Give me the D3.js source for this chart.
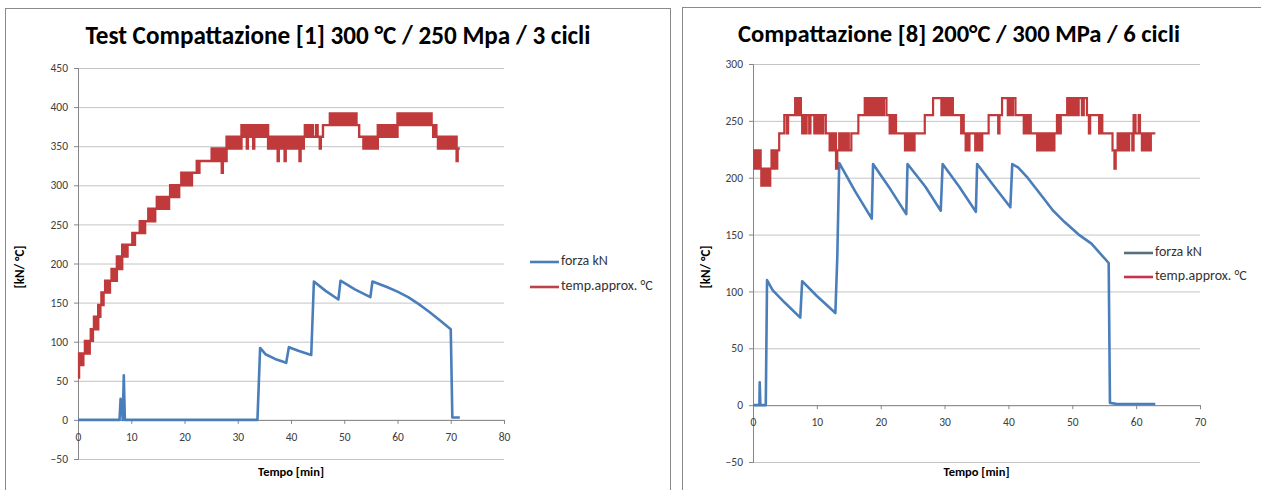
<!DOCTYPE html>
<html>
<head>
<meta charset="utf-8">
<script src="https://cdn.jsdelivr.net/npm/d3@7"></script>
<style>
  body { margin: 0; background: #fff; }
  svg { display: block; }
  text { font-family: Carlito, Calibri, Lato, "Open Sans", sans-serif; }
</style>
</head>
<body>
<svg id="chart" width="1261" height="490"></svg>
<script>
// ---- data ----
const seriesNames = ["forza kN", "temp.approx. °C"];

const leftTitle = "Test Compattazione [1] 300 °C / 250 Mpa / 3 cicli";
const leftXTicks = [0, 10, 20, 30, 40, 50, 60, 70, 80];
const leftYTicks = [-50, 0, 50, 100, 150, 200, 250, 300, 350, 400, 450];

// [minutes, kN]
const leftForce = [
  [0, 0], [7.8, 0], [8.0, 27], [8.2, 22], [8.4, 0], [8.6, 57], [8.8, 0],
  [33.7, 0], [34.2, 92], [35.2, 84], [37, 78], [39.1, 73],
  [39.6, 93], [41.5, 88], [43.8, 83],
  [44.3, 177], [46.5, 165], [48.9, 154],
  [49.3, 178], [52, 167], [54.9, 157],
  [55.3, 177], [58, 170], [60, 164], [62, 157], [64, 148], [66, 138], [68, 127], [70, 116],
  [70.3, 3], [71.7, 3]
];

// [minutes, °C] (stepped, sensor toggles between neighbouring levels)
const leftTemp = [
  [0, 54], [0.2, 85], [0.4, 70], [0.6, 85], [0.8, 70], [1.0, 85], [1.3, 101], [1.5, 85],
  [1.7, 101], [1.9, 85], [2.2, 101], [2.4, 116], [2.6, 101], [2.8, 116], [3.0, 132], [3.2, 116],
  [3.4, 132], [3.6, 116], [3.8, 147], [4.0, 132], [4.2, 147], [4.4, 163], [4.6, 147], [4.8, 163],
  [5.1, 178], [5.3, 163], [5.5, 178], [5.8, 163], [6.0, 178], [6.3, 193], [6.5, 178], [6.8, 193],
  [7.0, 178], [7.3, 209], [7.5, 193], [7.7, 209], [8.0, 193], [8.3, 224], [8.5, 209], [8.8, 224],
  [9.0, 209], [9.3, 224], [10.2, 239], [10.4, 224], [10.7, 239], [11.6, 254], [11.8, 239], [12.1, 254],
  [12.4, 239], [12.6, 254], [13.2, 270], [13.4, 254], [13.6, 270], [13.8, 254], [14.0, 270], [14.3, 254],
  [14.5, 270], [14.8, 285], [15.0, 270], [15.3, 285], [15.6, 270], [15.9, 285], [16.2, 270], [16.5, 285],
  [16.8, 270], [17.1, 285], [17.3, 300], [17.5, 285], [17.8, 300], [18.1, 285], [18.4, 300], [18.7, 285],
  [19.0, 300], [19.4, 316], [19.7, 300], [20.0, 316], [20.4, 300], [20.7, 316], [21.1, 300], [21.4, 316],
  [22.3, 331], [22.6, 316], [22.8, 331], [25.1, 347], [25.3, 331], [25.6, 347], [25.9, 331], [26.2, 347],
  [26.5, 331], [26.8, 347], [27.0, 316], [27.2, 347], [27.5, 331], [27.9, 362], [28.1, 347], [28.4, 362],
  [28.7, 347], [29.0, 362], [29.3, 347], [29.6, 362], [29.9, 347], [30.2, 362], [30.5, 347], [30.7, 377],
  [30.9, 362], [31.2, 377], [31.5, 362], [31.7, 347], [31.9, 377], [32.2, 362], [32.5, 377], [32.9, 347],
  [33.1, 377], [33.4, 362], [33.7, 377], [34.0, 362], [34.3, 377], [34.6, 362], [34.9, 377], [35.2, 362],
  [35.5, 377], [35.7, 347], [36.0, 362], [36.3, 347], [36.6, 362], [36.9, 347], [37.2, 362], [37.5, 331],
  [37.7, 362], [38.0, 347], [38.3, 362], [38.6, 347], [38.8, 331], [39.0, 362], [39.3, 347], [39.6, 362],
  [39.9, 347], [40.2, 362], [40.5, 347], [40.8, 362], [41.1, 347], [41.4, 362], [41.6, 331], [41.8, 362],
  [42.1, 347], [42.4, 362], [42.6, 377], [42.9, 362], [43.2, 377], [43.5, 362], [43.8, 377], [44.1, 362],
  [44.7, 377], [45.0, 362], [45.4, 347], [45.6, 362], [46.0, 377], [47.3, 392], [47.6, 377], [47.9, 392],
  [48.2, 377], [48.5, 392], [48.8, 377], [49.1, 392], [49.4, 377], [49.7, 392], [50.0, 377], [50.3, 392],
  [50.6, 377], [50.9, 392], [51.2, 377], [51.5, 392], [51.8, 377], [52.1, 392], [52.3, 377], [52.8, 362],
  [53.6, 347], [53.9, 362], [54.2, 347], [54.5, 362], [54.8, 347], [55.1, 362], [55.4, 347], [55.7, 362],
  [56.0, 347], [56.3, 377], [56.6, 362], [56.9, 377], [57.2, 362], [57.5, 377], [57.8, 362], [58.1, 377],
  [58.4, 362], [58.7, 377], [59.0, 362], [59.3, 377], [59.6, 362], [60.0, 392], [60.3, 377], [60.6, 392],
  [60.9, 377], [61.2, 392], [61.5, 377], [61.8, 392], [62.1, 377], [62.4, 392], [62.7, 377], [63.0, 392],
  [63.3, 377], [63.6, 392], [63.9, 377], [64.2, 392], [64.5, 377], [64.8, 392], [65.1, 377], [65.4, 392],
  [65.7, 377], [66.0, 392], [66.4, 377], [66.7, 362], [66.9, 377], [67.3, 362], [67.6, 347], [67.9, 362],
  [68.2, 347], [68.5, 362], [68.8, 347], [69.1, 362], [69.4, 347], [69.7, 362], [70.0, 347], [70.3, 362],
  [70.6, 347], [70.9, 362], [71.1, 331], [71.3, 347], [71.7, 347]
];

const rightTitle = "Compattazione [8] 200°C / 300 MPa / 6 cicli";
const rightXTicks = [0, 10, 20, 30, 40, 50, 60, 70];
const rightYTicks = [-50, 0, 50, 100, 150, 200, 250, 300];

const rightForce = [
  [0, 0], [1.0, 0], [1.05, 20], [1.15, 0], [2.0, 0], [2.2, 110], [3.1, 101], [5, 90], [7.4, 77],
  [7.7, 109], [10, 96], [12.9, 81],
  [13.2, 130], [13.5, 213], [16, 188], [18.6, 164],
  [18.8, 212], [21.5, 190], [24, 168],
  [24.2, 212], [27, 192], [29.4, 171],
  [29.7, 212], [32.3, 192], [34.9, 170],
  [35.1, 212], [37.7, 193], [40.3, 174],
  [40.6, 212], [41.5, 209], [43, 200], [45.5, 182], [47, 171], [48.8, 161], [51, 150], [53, 142],
  [55.7, 125], [55.9, 2], [57, 1], [63, 1]
];

const rightTemp = [
  [0, 208], [0.2, 224], [0.4, 208], [0.6, 224], [0.8, 208], [1.0, 224], [1.2, 208], [1.3, 193],
  [1.5, 208], [1.7, 193], [1.9, 208], [2.1, 193], [2.3, 208], [2.5, 193], [2.7, 208], [2.9, 224],
  [3.1, 208], [3.3, 224], [3.5, 208], [3.8, 224], [4.1, 239], [4.9, 255], [5.3, 239], [5.5, 255],
  [6.6, 270], [6.8, 255], [7.0, 270], [7.2, 255], [7.4, 270], [7.5, 255], [7.7, 239], [7.9, 255],
  [8.2, 239], [8.4, 255], [8.8, 239], [9.0, 255], [9.6, 239], [9.8, 255], [10.0, 239], [10.2, 255],
  [10.4, 239], [10.6, 255], [10.8, 239], [11.0, 255], [11.4, 239], [12.0, 224], [12.2, 239], [12.5, 224],
  [12.8, 239], [13.0, 208], [13.2, 224], [13.5, 239], [13.8, 224], [14.1, 239], [14.4, 224], [14.7, 239],
  [15.0, 224], [15.4, 239], [16.5, 255], [17.5, 270], [17.8, 255], [18.1, 270], [18.4, 255], [18.7, 270],
  [19.0, 255], [19.3, 270], [19.6, 255], [19.9, 270], [20.2, 255], [20.5, 270], [20.9, 255], [21.4, 239],
  [21.6, 255], [21.9, 239], [22.1, 255], [22.4, 239], [23.8, 224], [24.1, 239], [24.4, 224], [24.7, 239],
  [25.0, 224], [25.3, 239], [26.9, 255], [28.2, 270], [29.5, 255], [29.8, 270], [30.1, 255], [30.4, 270],
  [30.7, 255], [31.0, 270], [31.3, 255], [31.6, 255], [32.6, 239], [32.8, 255], [33.0, 239], [33.3, 224],
  [33.5, 239], [33.7, 224], [33.9, 239], [34.8, 224], [35.0, 239], [35.2, 224], [35.4, 239], [35.6, 224],
  [35.9, 239], [36.9, 255], [38.4, 239], [38.6, 255], [39.0, 270], [39.9, 255], [40.1, 270], [40.4, 255],
  [40.7, 270], [41.1, 255], [42.4, 239], [42.6, 255], [42.9, 239], [43.2, 255], [43.5, 239], [44.5, 224],
  [44.8, 239], [45.1, 224], [45.4, 239], [45.7, 224], [46.0, 239], [46.3, 224], [46.6, 239], [46.9, 224],
  [47.2, 239], [47.6, 255], [47.9, 239], [48.2, 255], [49.2, 270], [49.5, 255], [49.8, 270], [50.1, 255],
  [50.4, 270], [50.7, 255], [51.0, 270], [51.5, 255], [51.8, 270], [52.3, 255], [52.6, 239], [52.8, 255],
  [54.2, 239], [54.4, 255], [54.7, 239], [55.0, 239], [56.3, 224], [56.6, 208], [56.8, 224], [57.1, 239],
  [57.4, 224], [57.7, 239], [58.0, 224], [58.3, 239], [58.6, 224], [58.9, 239], [59.4, 224], [59.6, 255],
  [59.9, 239], [60.4, 255], [60.6, 239], [60.9, 224], [61.2, 239], [61.5, 224], [61.8, 239], [62.1, 224],
  [62.3, 239], [63.0, 239]
];

// ---- drawing ----
const svg = d3.select("#chart");
svg.append("rect").attr("width", 1261).attr("height", 490).attr("fill", "#fff");

const charts = [
  {
    frame: [5.5, 8.5, 665, 490],
    left: 78, right: 504, top: 68, bottom: 459,
    xTicks: leftXTicks, yTicks: leftYTicks,
    force: leftForce, temp: leftTemp,
    title: leftTitle, titleX: 338, titleY: 44, titleW: 505,
    yLabelX: 21, legendX: 530, legendY: [262, 287],
    legendColors: ["#4a7ebb", "#c0404a"],
    tempWidth: 2.4
  },
  {
    frame: [682.5, 7.5, 580, 490],
    left: 753, right: 1200, top: 64, bottom: 462,
    xTicks: rightXTicks, yTicks: rightYTicks,
    force: rightForce, temp: rightTemp,
    title: rightTitle, titleX: 959, titleY: 42, titleW: 442,
    yLabelX: 707, legendX: 1124, legendY: [253, 277],
    legendColors: ["#56707c", "#c8324f"],
    tempWidth: 2.2
  }
];

charts.forEach(c => {
  const g = svg.append("g");

  g.append("rect")
    .attr("x", c.frame[0]).attr("y", c.frame[1])
    .attr("width", c.frame[2]).attr("height", c.frame[3])
    .attr("fill", "#fff").attr("stroke", "#8a8a8a").attr("stroke-width", 1);

  const x = d3.scaleLinear()
    .domain(d3.extent(c.xTicks)).range([c.left, c.right]);
  const y = d3.scaleLinear()
    .domain(d3.extent(c.yTicks)).range([c.bottom, c.top]);

  // gridlines
  g.append("g")
    .attr("transform", `translate(${c.left},0)`)
    .call(d3.axisLeft(y).tickValues(c.yTicks).tickSize(-(c.right - c.left)).tickFormat(""))
    .call(s => s.select(".domain").remove())
    .call(s => s.selectAll("line").attr("stroke", "#c4c4c4").attr("stroke-width", 1));

  // y axis
  g.append("g")
    .attr("transform", `translate(${c.left},0)`)
    .call(d3.axisLeft(y).tickValues(c.yTicks).tickSize(4).tickPadding(6))
    .call(s => s.select(".domain").attr("stroke", "#868686"))
    .call(s => s.selectAll("line").attr("stroke", "#868686"))
    .call(s => s.selectAll("text")
      .attr("fill", "#404040").style("font-size", "11.5px")
      .style("font-family", "Carlito, Calibri, Lato, sans-serif"));

  // x axis crossing at zero
  g.append("g")
    .attr("transform", `translate(0,${y(0)})`)
    .call(d3.axisBottom(x).tickValues(c.xTicks).tickSize(4).tickPadding(9))
    .call(s => s.select(".domain").attr("stroke", "#868686"))
    .call(s => s.selectAll("line").attr("stroke", "#868686"))
    .call(s => s.selectAll("text")
      .attr("fill", "#404040").style("font-size", "11.5px")
      .style("font-family", "Carlito, Calibri, Lato, sans-serif"));

  const forceLine = d3.line().x(d => x(d[0])).y(d => y(d[1]));
  const tempLine = d3.line().x(d => x(d[0])).y(d => y(d[1])).curve(d3.curveStepAfter);

  g.append("path")
    .datum(c.force)
    .attr("fill", "none")
    .attr("stroke", "#4a7ebb")
    .attr("stroke-width", 2.6)
    .attr("stroke-linejoin", "round")
    .attr("d", forceLine);

  g.append("path")
    .datum(c.temp)
    .attr("fill", "none")
    .attr("stroke", "#c0393b")
    .attr("stroke-width", c.tempWidth)
    .attr("d", tempLine);

  // title, fitted to the width seen in the picture
  const title = g.append("text")
    .attr("x", c.titleX).attr("y", c.titleY)
    .attr("text-anchor", "middle")
    .attr("font-weight", "bold")
    .attr("fill", "#000")
    .style("font-size", "20px")
    .text(c.title);
  const tw = title.node().getComputedTextLength();
  title.style("font-size", (20 * c.titleW / tw).toFixed(2) + "px");

  g.append("text")
    .attr("transform", `translate(${c.yLabelX},267) rotate(-90)`)
    .attr("text-anchor", "middle")
    .attr("dominant-baseline", "middle")
    .attr("font-weight", "bold")
    .style("font-size", "13px")
    .text("[kN/ °C]");

  g.append("text")
    .attr("x", (c.left + c.right) / 2).attr("y", 476)
    .attr("text-anchor", "middle")
    .attr("font-weight", "bold")
    .style("font-size", "12.5px")
    .text("Tempo [min]");

  // legend
  const leg = g.selectAll(".leg").data(seriesNames).join("g")
    .attr("transform", (d, i) => `translate(${c.legendX},${c.legendY[i]})`);
  leg.append("line")
    .attr("x1", 0).attr("x2", 29)
    .attr("stroke", (d, i) => c.legendColors[i])
    .attr("stroke-width", 2.6);
  leg.append("text")
    .attr("x", 31)
    .attr("dominant-baseline", "middle")
    .attr("fill", "#333")
    .style("font-size", "14px")
    .text(d => d);
});
</script>
</body>
</html>
